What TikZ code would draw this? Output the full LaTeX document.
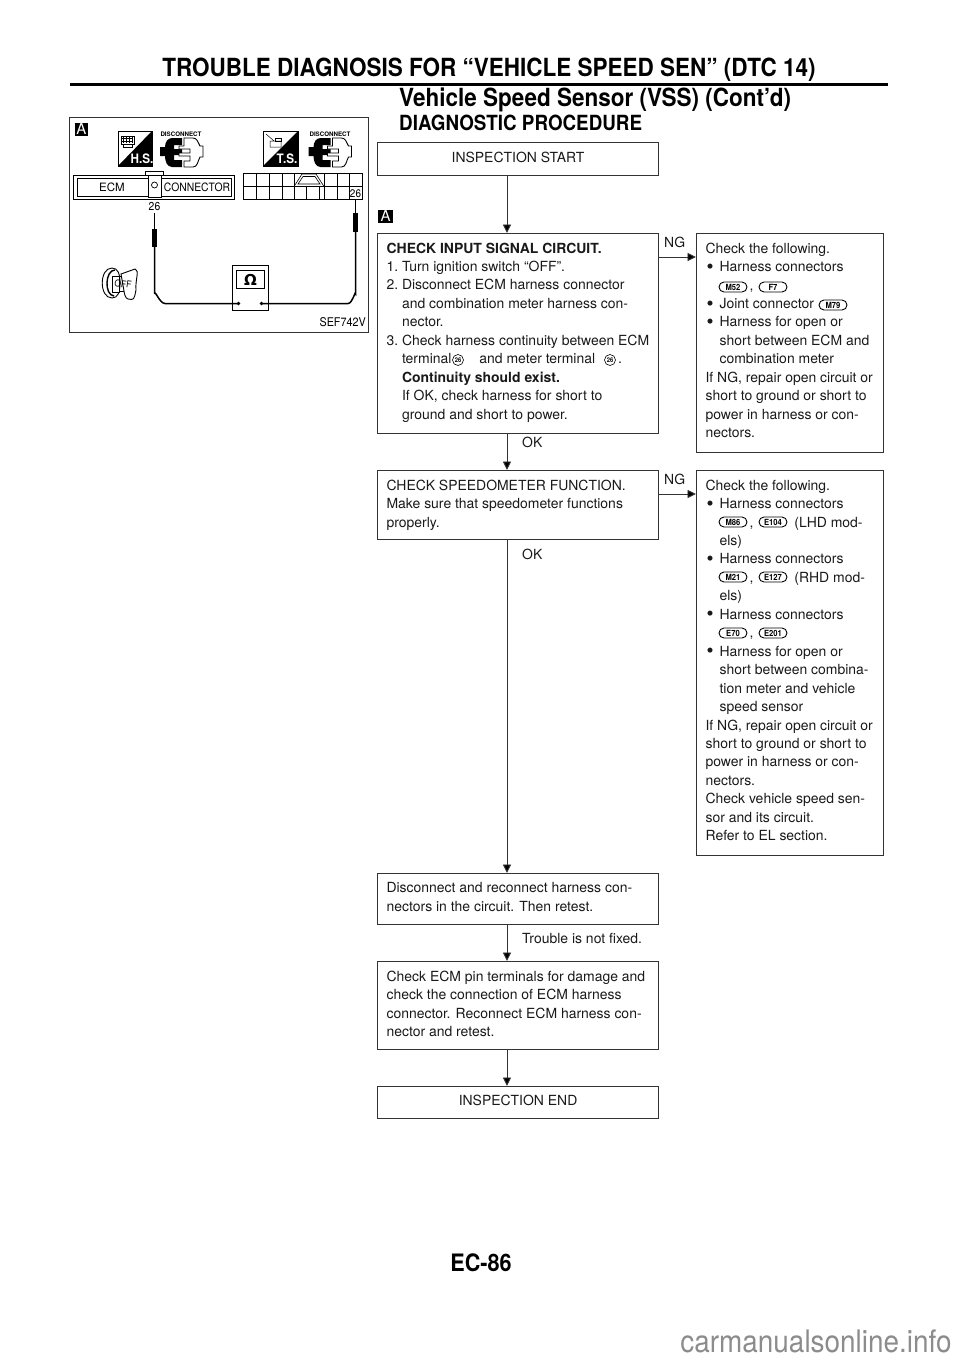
\documentclass[tikz,border=0pt]{standalone}
\usepackage{fontspec}
\setmainfont{TeX Gyre Heros}
\newfontfamily\condfont[FakeStretch=0.9]{TeX Gyre Heros}
\newfontfamily\dejavu{DejaVu Sans}
\usetikzlibrary{arrows.meta,shapes.misc}
\definecolor{ink}{gray}{0.1}
\definecolor{edge}{gray}{0.2}
\newcommand\body{\fontsize{13.95}{18.45}\selectfont}
\newcommand\BT[3]{\parbox[c][#2pt][t]{#1pt}{\vspace{9.2pt}\hspace*{9pt}\parbox[t]{\dimexpr#1pt-10pt}{\raggedright\body #3}}}
\newcommand\ginD{\hspace*{15.5pt}}
\newcommand\gnD{\hspace*{14pt}}
\newcommand\num[1]{\makebox[15.5pt][l]{#1}}
\newcommand\bul{\makebox[14pt][l]{\hspace{1pt}\raisebox{-1.5pt}{\fontsize{20}{18}\selectfont\textbullet}}}
\tikzset{
 x=1pt,y=-1pt,
 flowbox/.style={draw=edge,line width=1.1pt,inner sep=0pt,anchor=north west,text=ink},
 flow/.style={draw=edge,line width=0.9pt,-{Triangle[length=8.5pt,width=8pt,fill=black]}},
 lab/.style={inner sep=0pt,text=ink,font=\body,anchor=base west},
 badge/.style={rounded rectangle,draw=black,line width=0.9pt,inner sep=0pt,minimum width=28pt,minimum height=10pt,font=\fontsize{8.5}{8}\selectfont\bfseries\condfont,text=black,fill=white},
 circ/.style={circle,draw=black,line width=0.6pt,inner sep=0pt,minimum size=11pt,font=\fontsize{6.5}{6.5}\selectfont\bfseries\condfont},
 marker/.style={fill=black,text=white,inner sep=0pt,font=\fontsize{15}{15}\selectfont},
 head/.style={inner sep=0pt,font=\condfont\bfseries,text=black},
 wire/.style={draw=black,line width=1.5pt},
 thin/.style={draw=black,line width=0.7pt},
}
\begin{document}
\begin{tikzpicture}
\useasboundingbox (0,0) rectangle (960,1358);
\fill[white] (0,0) rectangle (960,1358);
% header
\node[head,font=\fontsize{25}{25}\selectfont\condfont\bfseries] (title) at (489,70) {TROUBLE DIAGNOSIS FOR “VEHICLE SPEED SEN” (DTC 14)};
\coordinate (ruleL) at (70,84.5); \coordinate (ruleR) at (888,84.5);
\draw[line width=3pt] (ruleL) -- (ruleR);
\node[head,anchor=base west,font=\fontsize{25}{25}\selectfont\condfont\bfseries] (sub) at (399,106) {Vehicle Speed Sensor (VSS) (Cont’d)};
\node[head,anchor=base west,font=\fontsize{20.9}{20.9}\selectfont\condfont\bfseries] (dp) at (399,130) {DIAGNOSTIC PROCEDURE};
\node[head,font=\fontsize{24}{24}\selectfont\condfont\bfseries] (page) at (481,1263) {EC-86};
\node[inner sep=0pt,text=black!45,font=\fontsize{31}{31}\selectfont\condfont] (wm) at (816,1341) {carmanualsonline.info};

% flow boxes
\node[flowbox,minimum width=281pt,minimum height=33pt,align=center,font=\body] (start) at (377,142) {\raisebox{4pt}{INSPECTION START}};
\node[flowbox] (check1) at (377,233) {\BT{281}{200}{\textbf{CHECK INPUT SIGNAL CIRCUIT.}\\
\num{1.}Turn ignition switch “OFF”.\\
\num{2.}Disconnect ECM harness connector\\
\ginD{}and combination meter harness con-\\
\ginD{}nector.\\
\num{3.}Check harness continuity between ECM\\
\ginD{}terminal\hspace{28pt}and meter terminal\hspace{23pt}.\\
\ginD{}\textbf{Continuity should exist.}\\
\ginD{}If OK, check harness for short to\\
\ginD{}ground and short to power.}};
\node[flowbox] (ng1) at (696,233) {\BT{187}{219}{Check the following.\\
\bul{}Harness connectors\\
\gnD{}\hspace{30pt},\\
\bul{}Joint connector\\
\bul{}Harness for open or\\
\gnD{}short between ECM and\\
\gnD{}combination meter\\
If NG, repair open circuit or\\
short to ground or short to\\
power in harness or con-\\
nectors.}};
\node[flowbox] (check2) at (377,470) {\BT{281}{69}{CHECK SPEEDOMETER FUNCTION.\\
Make sure that speedometer functions\\
properly.}};
\node[flowbox] (ng2) at (696,470) {\BT{187}{385}{Check the following.\\
\bul{}Harness connectors\\
\gnD{}\hspace{30pt},\hspace{41pt}(LHD mod-\\
\gnD{}els)\\
\bul{}Harness connectors\\
\gnD{}\hspace{30pt},\hspace{41pt}(RHD mod-\\
\gnD{}els)\\
\bul{}Harness connectors\\
\gnD{}\hspace{30pt},\\
\bul{}Harness for open or\\
\gnD{}short between combina-\\
\gnD{}tion meter and vehicle\\
\gnD{}speed sensor\\
If NG, repair open circuit or\\
short to ground or short to\\
power in harness or con-\\
nectors.\\
Check vehicle speed sen-\\
sor and its circuit.\\
Refer to EL section.}};
\node[flowbox] (recon) at (377,873) {\BT{281}{51}{Disconnect and reconnect harness con-\\
nectors in the circuit. Then retest.}};
\node[flowbox] (pins) at (377,961) {\BT{281}{88}{Check ECM pin terminals for damage and\\
check the connection of ECM harness\\
connector. Reconnect ECM harness con-\\
nector and retest.}};
\node[flowbox,minimum width=281pt,minimum height=32pt,align=center,font=\body] (end) at (377,1086) {\raisebox{4pt}{INSPECTION END}};

% connectors
\coordinate (spine) at (507,0);
\coordinate (h1) at (0,257);
\coordinate (h2) at (0,494);
\draw[flow] (start.south -| spine) -- (check1.north -| spine);
\draw[flow] (check1.south -| spine) -- (check2.north -| spine);
\draw[flow] (check2.south -| spine) -- (recon.north -| spine);
\draw[flow] (recon.south -| spine) -- (pins.north -| spine);
\draw[flow] (pins.south -| spine) -- (end.north -| spine);
\draw[flow] (check1.east |- h1) -- (ng1.west |- h1);
\draw[flow] (check2.east |- h2) -- (ng2.west |- h2);

% connector labels
\node[lab] (lng1) at (664,247.5) {NG};
\node[lab] (lng2) at (664,484.5) {NG};
\node[lab] (lok1) at (522,447) {OK};
\node[lab] (lok2) at (522,559) {OK};
\node[lab] (lfix) at (522,943) {Trouble is not fixed.};

% badges
\node[badge] (bM52) at (733,287) {M52};
\node[badge] (bF7) at (773,287) {F7};
\node[badge] (bM79) at (833,305) {M79};
\node[badge] (bM86) at (733,522) {M86};
\node[badge] (bE104) at (773,522) {E104};
\node[badge] (bM21) at (733,577) {M21};
\node[badge] (bE127) at (773,577) {E127};
\node[badge] (bE70) at (733,633) {E70};
\node[badge] (bE201) at (773,633) {E201};
\node[circ] (c1) at (458,360) {26};
\node[circ] (c2) at (610,360) {26};

% markers
\node[marker,minimum width=15pt,minimum height=13pt] (mk2) at (385.5,216) {A};

% ------ panel
\node[draw=edge,line width=1.1pt,minimum width=299pt,minimum height=215pt,anchor=north west,inner sep=0pt] (panel) at (69,117) {};
\node[marker,minimum width=13pt,minimum height=13pt] (mk1) at (81.5,129) {A};
\node[inner sep=0pt,anchor=base east,font=\fontsize{12}{12}\selectfont\condfont] (sef) at (366,326) {SEF742V};

% HS icon
\draw[line width=0.9pt] (118,131) rectangle (152,166);
\fill (152,131) -- (152,166) -- (118,166) -- cycle;
\node[inner sep=0pt,text=white,font=\fontsize{13}{13}\selectfont\bfseries\condfont] (hs) at (142,158.5) {H.S.};
\draw[line width=0.5pt] (121,136) rectangle (134,144) (123,144) rectangle (132,147);
\draw[line width=0.5pt,step=3pt] (122,137) grid (133,143);
\node[inner sep=0pt,font=\fontsize{6.2}{6.2}\selectfont\bfseries] (d1) at (181,134.5) {DISCONNECT};

% TS icon
\draw[line width=0.9pt] (263,131) rectangle (298,166);
\fill (298,131) -- (298,166) -- (263,166) -- cycle;
\node[inner sep=0pt,text=white,font=\fontsize{13}{13}\selectfont\bfseries\condfont] (ts) at (287,158.5) {T.S.};
\draw[line width=0.5pt] (270,141) rectangle (281,147) (266,134) -- (274,141);
\draw[line width=0.5pt] (275,138) rectangle (281,141);
\node[inner sep=0pt,font=\fontsize{6.2}{6.2}\selectfont\bfseries] (d2) at (330,134.5) {DISCONNECT};

% disconnect connector icons (left then right)
\foreach \ox in {0,148.5}{
 \begin{scope}[xshift=\ox pt]
 \fill (182,138) -- (172,138) to[out=180,in=90] (165,147) -- (160,147) -- (160,156) -- (165,156) to[out=-90,in=180] (172,167) -- (182,167) -- (182,160) -- (174,160) -- (174,155) -- (182,155) -- (182,149) -- (174,149) -- (174,145) -- (182,145) -- cycle;
 \draw[line width=0.9pt,fill=white] (184,138) -- (193,138) to[out=0,in=120] (200,146) -- (203,146) -- (203,157) -- (200,157) to[out=-120,in=0] (193,167) -- (184,167) -- (184,161) -- (190,161) -- (190,156) -- (179,156) -- (179,153) -- (190,153) -- (190,149) -- (179,149) -- (179,146) -- (184,146) -- cycle;
 \end{scope}
}

% ECM connector
\draw[line width=0.9pt] (73,175) rectangle (234,199);
\draw[line width=0.9pt] (77,178) rectangle (231,196);
\draw[line width=0.7pt] (145,175) -- (145,171.5) -- (163,171.5) -- (163,175);
\draw[line width=0.9pt,fill=white] (148.5,175) rectangle (161,197);
\draw[line width=0.7pt] (154.5,185) circle (3pt);
\node[inner sep=0pt,font=\fontsize{11.5}{11.5}\selectfont] (ecm) at (112,187.5) {ECM};
\node[inner sep=0pt,font=\fontsize{11.5}{11.5}\selectfont\condfont] (cn) at (197,187.5) {CONNECTOR};

% terminal grid
\draw[thin,line width=0.6pt] (243,173) rectangle (362,199);
\draw[thin,line width=0.6pt] (243,186.5) -- (362,186.5);
\foreach \gx in {256,269,282,294,324,337,349}{\draw[thin,line width=0.6pt] (\gx,173) -- (\gx,199);}
\fill[white] (294.5,173.5) rectangle (323.5,186);
\fill[white] (294.5,187) rectangle (323.5,198.5);
\draw[thin,line width=0.6pt] (294,186.5) -- (302,174) -- (316,174) -- (324,186.5);
\draw[thin,line width=0.6pt] (298,184) -- (303,176.5) -- (315,176.5) -- (320,184) -- cycle;
\draw[thin,line width=0.6pt] (306.5,186.5) -- (306.5,199) (319.5,186.5) -- (319.5,199);
\fill[white] (349.5,187.5) rectangle (361.5,198.5);
\node[inner sep=0pt,font=\fontsize{11}{11}\selectfont\condfont] (t26r) at (355.5,193.5) {26};
\node[inner sep=0pt,font=\fontsize{11.5}{11.5}\selectfont\condfont] (t26l) at (154.5,207) {26};

% meter
\node[draw=black,line width=1.2pt,minimum width=36pt,minimum height=45pt,anchor=north west,inner sep=0pt] (meter) at (232,265) {};
\node[draw=black,line width=1pt,minimum width=28pt,minimum height=18pt,anchor=north west,inner sep=0pt,font=\fontsize{15}{15}\selectfont\bfseries\dejavu] (disp) at (236,270) {Ω};
\coordinate (tl) at (238.5,303.5); \coordinate (tr) at (261.5,303.5);
\fill (tl) circle (1.8pt) (tr) circle (1.8pt);

% probes
\draw[thin,line width=1pt] (154.5,213) -- (154.5,229);
\fill (151.8,229) rectangle (157.3,246.5);
\draw[wire] (154.5,246) -- (154.5,294) to[out=90,in=180] (165,303.5) -- (tl);
\draw[thin,line width=1pt] (355.5,199) -- (355.5,213);
\fill (352.8,213) rectangle (358.3,232);
\draw[wire] (355.5,232) -- (355.5,294) to[out=90,in=0] (348,303.5) -- (tr);

% ignition key
\draw[line width=0.9pt] (112,268) .. controls (99,268) and (99,298) .. (112,298) .. controls (118,298) and (120,292) .. (120,283) .. controls (120,274) and (118,268) .. (112,268);
\draw[line width=1.4pt] (115,270) .. controls (105,270) and (104,295) .. (114,296);
\draw[line width=0.9pt] (115,276) -- (124,276) (114,291) -- (124,291);
\draw[line width=0.9pt,fill=white] (121,274) -- (135,269) .. controls (140,270) and (135,280) .. (136,290) .. controls (134,300) .. (128,299) .. controls (125,299) and (124,291) .. (124,291) -- cycle;
\draw[line width=0.7pt,fill=white] (112,276) rectangle (119,292);
\node[inner sep=0pt,font=\fontsize{9.5}{9.5}\selectfont\condfont,rotate=-8] (off) at (123,284) {OFF};
\end{tikzpicture}
\end{document}
